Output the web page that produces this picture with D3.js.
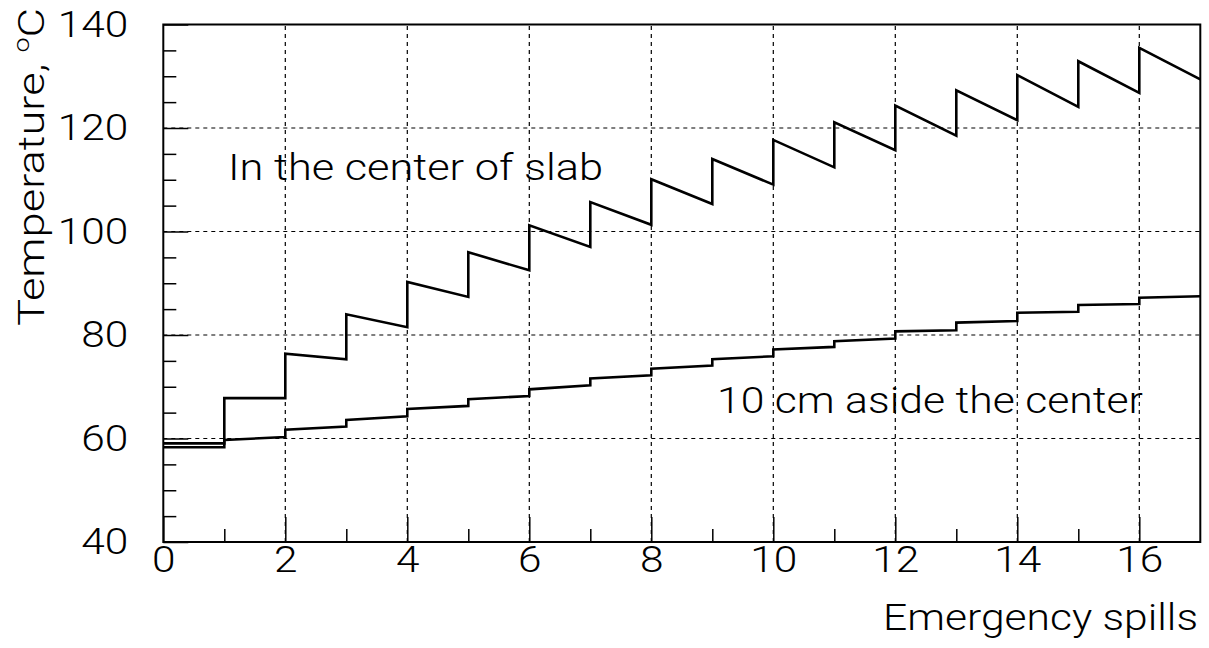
<!DOCTYPE html>
<html>
<head>
<meta charset="utf-8">
<script src="https://cdn.jsdelivr.net/npm/d3@7"></script>
<style>
  html, body { margin: 0; padding: 0; background: #fff; }
  svg { display: block; }
  text { font-family: Roboto, "Liberation Sans", sans-serif; font-weight: 300; fill: #000; }
</style>
</head>
<body>
<svg id="chart" width="1209" height="648"></svg>
<script>
// Temperature after each emergency spill: for every interval [k, k+1]
// the value just after spill k and the value just before spill k+1.
const spills = d3.range(0, 17);
const centerStart = [58.3, 67.8, 76.4, 84.0, 90.25, 96.0, 101.2, 105.7, 110.1, 114.0, 117.7, 121.1, 124.35, 127.3, 130.2, 132.9, 135.5];
const centerEnd   = [58.3, 67.8, 75.3, 81.5, 87.35, 92.5, 97.0, 101.3, 105.3, 109.05, 112.4, 115.7, 118.5, 121.5, 124.1, 126.8, 129.4];
const asideStart  = [59.05, 59.7, 61.7, 63.6, 65.7, 67.6, 69.5, 71.6, 73.5, 75.3, 77.2, 78.8, 80.7, 82.4, 84.3, 85.8, 87.2];
const asideEnd    = [59.05, 60.3, 62.3, 64.3, 66.3, 68.2, 70.3, 72.2, 74.1, 75.9, 77.7, 79.3, 80.9, 82.7, 84.5, 86.0, 87.5];

const xTicks = [0, 2, 4, 6, 8, 10, 12, 14, 16];
const yTicks = [40, 60, 80, 100, 120, 140];

const svg = d3.select("#chart");
const x = d3.scaleLinear().domain([0, 17]).range([163.3, 1200.3]);
const y = d3.scaleLinear().domain([40, 140]).range([542, 24.5]);

const gridDash = "4,4";
const digitWidth = 23.5;

// dashed grid
svg.append("g").selectAll("line")
  .data(xTicks.filter(d => d > 0))
  .join("line")
  .attr("x1", d => x(d)).attr("x2", d => x(d))
  .attr("y1", y(40)).attr("y2", y(140))
  .attr("stroke", "#000").attr("stroke-width", 1.2)
  .attr("stroke-dasharray", gridDash);

svg.append("g").selectAll("line")
  .data(yTicks.filter(d => d > 40 && d < 140))
  .join("line")
  .attr("x1", x(0)).attr("x2", x(17))
  .attr("y1", d => y(d)).attr("y2", d => y(d))
  .attr("stroke", "#000").attr("stroke-width", 1.2)
  .attr("stroke-dasharray", gridDash);

// axes: major ticks with labels, minor ticks without
const xAxis = d3.axisBottom(x).tickValues(xTicks).tickSize(-25).tickPadding(4)
  .tickFormat(d3.format("d"));
const xMinor = d3.axisBottom(x).tickValues(d3.range(1, 17, 2)).tickSize(-13).tickFormat("");
const yAxis = d3.axisLeft(y).tickValues(yTicks).tickSize(-25).tickPadding(35)
  .tickFormat(d3.format("d"));
const yMinor = d3.axisLeft(y).tickValues(d3.range(45, 140, 5).filter(v => v % 20 !== 0)).tickSize(-13).tickFormat("");

function styleAxis(g) {
  g.select(".domain").remove();
  g.selectAll(".tick line").attr("stroke", "#000").attr("stroke-width", 1.5);
  g.selectAll(".tick text")
    .style("font-family", "Roboto, 'Liberation Sans', sans-serif")
    .style("font-weight", 300)
    .style("font-size", "37px")
    .attr("fill", "#000")
    .attr("textLength", function () { return this.textContent.length * digitWidth; })
    .attr("lengthAdjust", "spacingAndGlyphs");
}

svg.append("g").attr("transform", `translate(0,${y(40)})`).call(xAxis).call(styleAxis)
  .selectAll(".tick text").attr("dy", "0.71em");
svg.append("g").attr("transform", `translate(0,${y(40)})`).call(xMinor).call(styleAxis);
svg.append("g").attr("transform", `translate(${x(0)},0)`).call(yAxis).call(styleAxis);
svg.append("g").attr("transform", `translate(${x(0)},0)`).call(yMinor).call(styleAxis);

// frame
svg.append("rect")
  .attr("x", x(0)).attr("y", y(140))
  .attr("width", x(17) - x(0)).attr("height", y(40) - y(140))
  .attr("fill", "none").attr("stroke", "#000").attr("stroke-width", 2);

// curves
function toPoints(starts, ends) {
  const pts = [];
  spills.forEach((k, i) => {
    pts.push([k, starts[i]]);
    pts.push([k + 1, ends[i]]);
  });
  return pts;
}
const line = d3.line().x(d => x(d[0])).y(d => y(d[1]));

svg.append("path").datum(toPoints(centerStart, centerEnd))
  .attr("d", line).attr("fill", "none").attr("stroke", "#000")
  .attr("stroke-width", 2.6).attr("stroke-linejoin", "miter");
svg.append("path").datum(toPoints(asideStart, asideEnd))
  .attr("d", line).attr("fill", "none").attr("stroke", "#000")
  .attr("stroke-width", 2.6).attr("stroke-linejoin", "miter");

// labels
svg.append("text").attr("x", 228).attr("y", 180)
  .attr("font-size", 37).attr("textLength", 375).attr("lengthAdjust", "spacingAndGlyphs")
  .text("In the center of slab");
svg.append("text").attr("x", 717).attr("y", 413)
  .attr("font-size", 37).attr("textLength", 426).attr("lengthAdjust", "spacingAndGlyphs")
  .text("10 cm aside the center");

svg.append("text").attr("x", 883).attr("y", 630)
  .attr("font-size", 37).attr("textLength", 315).attr("lengthAdjust", "spacingAndGlyphs")
  .text("Emergency spills");

const yTitle = svg.append("text")
  .attr("transform", "translate(44,326) rotate(-90)")
  .attr("font-size", 37)
  .attr("textLength", 318).attr("lengthAdjust", "spacingAndGlyphs");
yTitle.append("tspan").text("Temperature, ");
yTitle.append("tspan").attr("font-size", 22).attr("dy", -15).text("o");
yTitle.append("tspan").attr("dy", 15).text("C");
</script>
</body>
</html>
